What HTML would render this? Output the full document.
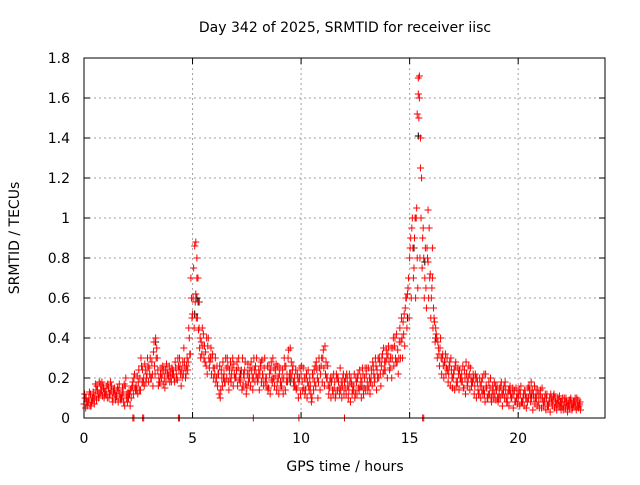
<!DOCTYPE html>
<html><head><meta charset="utf-8"><style>
body{margin:0;background:#fff}
svg text{font-family:"DejaVu Sans","Liberation Sans",sans-serif;font-size:14px;fill:#000}
</style></head><body>
<svg id="chart" width="640" height="480">
<g id="grid"></g>
<g id="ticks"></g>
<g id="marks"></g>
<rect x="84" y="58" width="521" height="360" fill="none" stroke="#000" stroke-width="1"/>
<text x="345" y="32" text-anchor="middle">Day 342 of 2025, SRMTID for receiver iisc</text>
<text x="345" y="471" text-anchor="middle">GPS time / hours</text>
<text transform="translate(19,238) rotate(-90)" text-anchor="middle">SRMTID / TECUs</text>
</svg>
<script>
const times = [0,0.1,0.2,0.3,0.4,0.5,0.6,0.7,0.8,0.9,1,1.1,1.2,1.3,1.4,1.5,1.6,1.7,1.8,1.9,2,2.1,2.2,2.3,2.4,2.5,2.6,2.7,2.8,2.9,3,3.1,3.2,3.3,3.4,3.5,3.6,3.7,3.8,3.9,4,4.1,4.2,4.3,4.4,4.5,4.6,4.7,4.8,4.9,5,5.1,5.2,5.3,5.4,5.5,5.6,5.7,5.8,5.9,6,6.1,6.2,6.3,6.4,6.5,6.6,6.7,6.8,6.9,7,7.1,7.2,7.3,7.4,7.5,7.6,7.7,7.8,7.9,8,8.1,8.2,8.3,8.4,8.5,8.6,8.7,8.8,8.9,9,9.1,9.2,9.3,9.4,9.5,9.6,9.7,9.8,9.9,10,10.1,10.2,10.3,10.4,10.5,10.6,10.7,10.8,10.9,11,11.1,11.2,11.3,11.4,11.5,11.6,11.7,11.8,11.9,12,12.1,12.2,12.3,12.4,12.5,12.6,12.7,12.8,12.9,13,13.1,13.2,13.3,13.4,13.5,13.6,13.7,13.8,13.9,14,14.1,14.2,14.3,14.4,14.5,14.6,14.7,14.8,14.9,15,15.1,15.2,15.3,15.4,15.5,15.6,15.7,15.8,15.9,16,16.1,16.2,16.3,16.4,16.5,16.6,16.7,16.8,16.9,17,17.1,17.2,17.3,17.4,17.5,17.6,17.7,17.8,17.9,18,18.1,18.2,18.3,18.4,18.5,18.6,18.7,18.8,18.9,19,19.1,19.2,19.3,19.4,19.5,19.6,19.7,19.8,19.9,20,20.1,20.2,20.3,20.4,20.5,20.6,20.7,20.8,20.9,21,21.1,21.2,21.3,21.4,21.5,21.6,21.7,21.8,21.9,22,22.1,22.2,22.3,22.4,22.5,22.6,22.7,22.8];
const seriesA = [0.07,0.1,0.08,0.12,0.09,0.11,0.16,0.18,0.14,0.15,
0.13,0.17,0.12,0.1,0.15,0.11,0.14,0.09,0.13,0.16,
0.08,0.12,0.15,0.2,0.16,0.18,0.14,0.24,0.27,0.22,
0.25,0.2,0.33,0.4,0.24,0.18,0.22,0.2,0.27,0.21,
0.2,0.24,0.28,0.19,0.3,0.24,0.35,0.22,0.28,0.32,
0.52,0.86,0.7,0.45,0.38,0.42,0.33,0.36,0.28,0.3,
0.25,0.2,0.22,0.14,0.28,0.18,0.3,0.24,0.22,0.27,
0.2,0.25,0.18,0.3,0.24,0.15,0.22,0.28,0.2,0.26,
0.18,0.22,0.29,0.25,0.2,0.15,0.24,0.3,0.21,0.18,
0.22,0.16,0.2,0.26,0.3,0.35,0.24,0.2,0.15,0.18,
0.22,0.25,0.14,0.18,0.2,0.1,0.24,0.28,0.18,0.22,
0.3,0.36,0.2,0.15,0.18,0.22,0.12,0.2,0.25,0.16,
0.18,0.22,0.14,0.2,0.16,0.12,0.2,0.24,0.18,0.15,
0.22,0.25,0.18,0.28,0.2,0.24,0.3,0.26,0.35,0.28,
0.32,0.25,0.3,0.36,0.42,0.3,0.38,0.48,0.55,0.62,
0.8,0.95,0.75,1.0,1.7,1.4,0.9,0.7,0.85,0.95,
0.6,0.55,0.45,0.38,0.35,0.3,0.28,0.25,0.22,0.3,
0.2,0.26,0.18,0.24,0.22,0.15,0.28,0.2,0.25,0.18,
0.16,0.2,0.12,0.18,0.14,0.22,0.1,0.15,0.12,0.18,
0.14,0.1,0.16,0.12,0.18,0.08,0.14,0.1,0.12,0.15,
0.1,0.12,0.08,0.14,0.1,0.16,0.18,0.12,0.1,0.14,
0.12,0.15,0.08,0.1,0.06,0.12,0.09,0.1,0.07,0.11,
0.08,0.06,0.1,0.07,0.09,0.05,0.08,0.1,0.06];
const seriesB = [0.1,0.06,0.13,0.08,0.1,0.14,0.12,0.17,0.11,0.13,
0.16,0.1,0.14,0.13,0.09,0.15,0.12,0.11,0.17,0.1,
0.1,0.14,0.18,0.15,0.21,0.14,0.26,0.2,0.18,0.26,
0.3,0.22,0.26,0.35,0.2,0.25,0.17,0.24,0.22,0.18,
0.25,0.2,0.22,0.26,0.22,0.28,0.25,0.3,0.4,0.6,
0.75,0.62,0.58,0.4,0.45,0.36,0.4,0.3,0.35,0.25,
0.3,0.16,0.26,0.2,0.22,0.25,0.18,0.28,0.3,0.2,
0.28,0.19,0.24,0.22,0.17,0.27,0.25,0.2,0.24,0.3,
0.24,0.28,0.2,0.18,0.26,0.22,0.19,0.25,0.27,0.2,
0.18,0.24,0.26,0.22,0.2,0.28,0.18,0.24,0.2,0.25,
0.18,0.2,0.22,0.16,0.12,0.2,0.26,0.2,0.25,0.3,
0.25,0.28,0.16,0.2,0.14,0.18,0.2,0.15,0.18,0.22,
0.2,0.16,0.18,0.12,0.22,0.18,0.15,0.2,0.22,0.25,
0.18,0.2,0.24,0.22,0.26,0.3,0.22,0.32,0.28,0.3,
0.28,0.35,0.4,0.3,0.34,0.45,0.4,0.52,0.6,0.7,
0.9,0.85,1.0,0.8,1.6,1.2,0.8,0.65,0.78,0.72,
0.7,0.48,0.4,0.32,0.3,0.26,0.32,0.24,0.28,0.2,
0.24,0.18,0.22,0.2,0.26,0.2,0.18,0.22,0.16,0.2,
0.2,0.14,0.16,0.2,0.12,0.15,0.18,0.1,0.14,0.16,
0.1,0.15,0.12,0.16,0.1,0.14,0.12,0.15,0.08,0.12,
0.14,0.08,0.12,0.1,0.15,0.12,0.14,0.16,0.1,0.08,
0.1,0.08,0.12,0.06,0.1,0.08,0.12,0.07,0.09,0.08,
0.1,0.08,0.06,0.09,0.07,0.08,0.06,0.09,0.08];
const seriesC = [0.12,0.08,0.1,0.06,0.13,0.17,0.14,0.12,0.18,0.1,
0.12,0.15,0.18,0.08,0.12,0.14,0.17,0.1,0.08,0.2,
0.12,0.06,0.16,0.22,0.14,0.24,0.3,0.18,0.24,0.3,
0.22,0.28,0.38,0.3,0.16,0.22,0.26,0.15,0.24,0.26,
0.18,0.22,0.25,0.3,0.26,0.2,0.28,0.26,0.45,0.7,
0.6,0.58,0.5,0.35,0.32,0.3,0.26,0.4,0.3,0.32,
0.22,0.26,0.12,0.24,0.2,0.3,0.26,0.2,0.25,0.22,
0.24,0.3,0.22,0.16,0.28,0.22,0.2,0.24,0.3,0.22,
0.2,0.26,0.22,0.3,0.16,0.26,0.28,0.2,0.24,0.26,
0.25,0.2,0.3,0.18,0.34,0.22,0.26,0.16,0.22,0.2,
0.26,0.15,0.2,0.24,0.16,0.22,0.18,0.24,0.3,0.26,
0.34,0.22,0.26,0.18,0.2,0.15,0.22,0.18,0.14,0.2,
0.15,0.2,0.22,0.17,0.14,0.2,0.22,0.16,0.25,0.2,
0.25,0.16,0.2,0.26,0.3,0.2,0.28,0.3,0.24,0.34,
0.36,0.3,0.35,0.4,0.28,0.38,0.5,0.42,0.6,0.65,
0.85,1.0,0.9,1.05,1.5,1.0,0.95,0.85,0.8,0.7,
0.65,0.5,0.42,0.35,0.4,0.32,0.28,0.3,0.26,0.24,
0.22,0.28,0.25,0.2,0.18,0.24,0.22,0.26,0.2,0.22,
0.22,0.18,0.2,0.14,0.22,0.16,0.12,0.2,0.16,0.12,
0.16,0.12,0.18,0.14,0.14,0.12,0.16,0.12,0.14,0.1,
0.12,0.16,0.1,0.12,0.08,0.14,0.12,0.1,0.14,0.12,
0.14,0.1,0.1,0.12,0.08,0.1,0.11,0.08,0.1,0.06,
0.06,0.1,0.08,0.06,0.1,0.07,0.1,0.06,0.07];
const seriesD = [0.05,0.08,0.06,0.1,0.07,0.09,0.1,0.13,0.16,0.12,
0.1,0.12,0.16,0.14,0.11,0.08,0.1,0.15,0.06,0.12,
0.12,0.1,0.12,0.14,0.12,0.2,0.18,0.16,0.2,0.18,
0.2,0.16,0.22,0.3,0.18,0.2,0.24,0.18,0.2,0.23,
0.22,0.18,0.2,0.24,0.16,0.22,0.2,0.24,0.32,0.5,
0.45,0.5,0.44,0.3,0.36,0.28,0.22,0.25,0.22,0.2,
0.18,0.22,0.1,0.16,0.18,0.2,0.14,0.18,0.16,0.2,
0.16,0.2,0.14,0.2,0.12,0.18,0.16,0.14,0.18,0.2,
0.14,0.18,0.16,0.2,0.14,0.12,0.18,0.16,0.14,0.12,
0.15,0.12,0.14,0.18,0.22,0.2,0.16,0.14,0.1,0.12,
0.14,0.12,0.1,0.14,0.08,0.14,0.16,0.1,0.14,0.18,
0.16,0.2,0.12,0.1,0.12,0.1,0.14,0.12,0.1,0.12,
0.12,0.1,0.08,0.14,0.1,0.12,0.14,0.1,0.12,0.14,
0.14,0.12,0.16,0.18,0.14,0.2,0.16,0.22,0.24,0.2,
0.24,0.2,0.26,0.28,0.22,0.3,0.3,0.36,0.45,0.5,
0.6,0.7,0.6,0.65,0.8,0.75,0.6,0.55,0.6,0.5,
0.45,0.38,0.3,0.26,0.22,0.2,0.22,0.18,0.16,0.15,
0.14,0.16,0.14,0.18,0.15,0.12,0.16,0.14,0.18,0.12,
0.1,0.12,0.1,0.12,0.08,0.1,0.12,0.08,0.1,0.09,
0.08,0.1,0.06,0.1,0.08,0.06,0.1,0.05,0.08,0.07,
0.06,0.08,0.06,0.05,0.1,0.08,0.04,0.07,0.06,0.05,
0.05,0.06,0.04,0.07,0.03,0.06,0.05,0.04,0.06,0.04,
0.04,0.05,0.03,0.05,0.04,0.06,0.04,0.05,0.04];
const blackTimes = [5.1,5.2,5.3,15.2,15.4,15.7,14.9,16.2,3.3,7.2,9.5,12.8,18.4,20.6];
const blackValues = [0.52,0.6,0.58,0.85,1.41,0.78,0.5,0.4,0.38,0.22,0.18,0.16,0.14,0.1];
const zeroTimes = [2.25,2.3,2.7,2.75,4.35,4.4,7.8,9.9,12.0,15.6,15.65];
const zeroValues = [0,0,0,0,0,0,0,0,0,0,0];
const peakTimes = [5.15,5.2,5.25,15.35,15.4,15.45,15.5,15.3,15.85,16.05];
const peakValues = [0.88,0.8,0.7,1.52,1.62,1.71,1.25,1.0,1.04,0.85];
const xTicks = [0,5,10,15,20];
const yTicks = [0,0.2,0.4,0.6,0.8,1,1.2,1.4,1.6,1.8];
const yTickLabels = ["0","0.2","0.4","0.6","0.8","1","1.2","1.4","1.6","1.8"];

const X0=84,X1=605,XMAX=24,Y0=418,Y1=58,YMAX=1.8;
const xs=t=>X0+(X1-X0)*t/XMAX;
const ys=v=>Y0-(Y0-Y1)*v/YMAX;
const NS="http://www.w3.org/2000/svg";
function mk(tag,attrs,parent){const e=document.createElementNS(NS,tag);for(const k in attrs)e.setAttribute(k,attrs[k]);parent.appendChild(e);return e;}
const grid=document.getElementById('grid'),ticks=document.getElementById('ticks'),marks=document.getElementById('marks');
xTicks.forEach(t=>{
  const x=xs(t);
  if(t>0){const g=mk('line',{x1:x,x2:x,y1:Y1,y2:Y0,stroke:'#a0a0a0','stroke-dasharray':'2,3'},grid);
  
  }
  mk('line',{x1:x,x2:x,y1:Y0,y2:Y0-6,stroke:'#000'},ticks);
  mk('line',{x1:x,x2:x,y1:Y1,y2:Y1+6,stroke:'#000'},ticks);
  const l=mk('text',{x:x,y:Y0+25,'text-anchor':'middle'},ticks);l.textContent=t;
  
  
});
yTicks.forEach((v,i)=>{
  const y=ys(v);
  if(v>0&&v<YMAX){const g=mk('line',{x1:X0,x2:X1,y1:y,y2:y,stroke:'#a0a0a0','stroke-dasharray':'2,3'},grid);
  
  }
  mk('line',{x1:X0,x2:X0+6,y1:y,y2:y,stroke:'#000'},ticks);
  mk('line',{x1:X1,x2:X1-6,y1:y,y2:y,stroke:'#000'},ticks);
  const l=mk('text',{x:X0-14,y:y+5,'text-anchor':'end'},ticks);l.textContent=yTickLabels[i];
  
  
});
function plus(t,v,color,dt){
  const x=xs(t+dt),y=ys(v);
  const p=mk('path',{d:`M${x-3.5},${y}H${x+3.5}M${x},${y-3.5}V${y+3.5}`,stroke:color,'stroke-width':1,fill:'none'},marks);
  
  
}
blackTimes.forEach((t,i)=>plus(t,blackValues[i],'#000',0));
times.forEach((t,i)=>plus(t,seriesA[i],'#f00',0));
times.forEach((t,i)=>plus(t,seriesB[i],'#f00',0.05));
times.forEach((t,i)=>plus(t,seriesC[i],'#f00',0.025));
times.forEach((t,i)=>plus(t,seriesD[i],'#f00',0.075));
peakTimes.forEach((t,i)=>plus(t,peakValues[i],'#f00',0));
zeroTimes.forEach((t,i)=>plus(t,zeroValues[i],'#f00',0));
</script>
</body></html>
